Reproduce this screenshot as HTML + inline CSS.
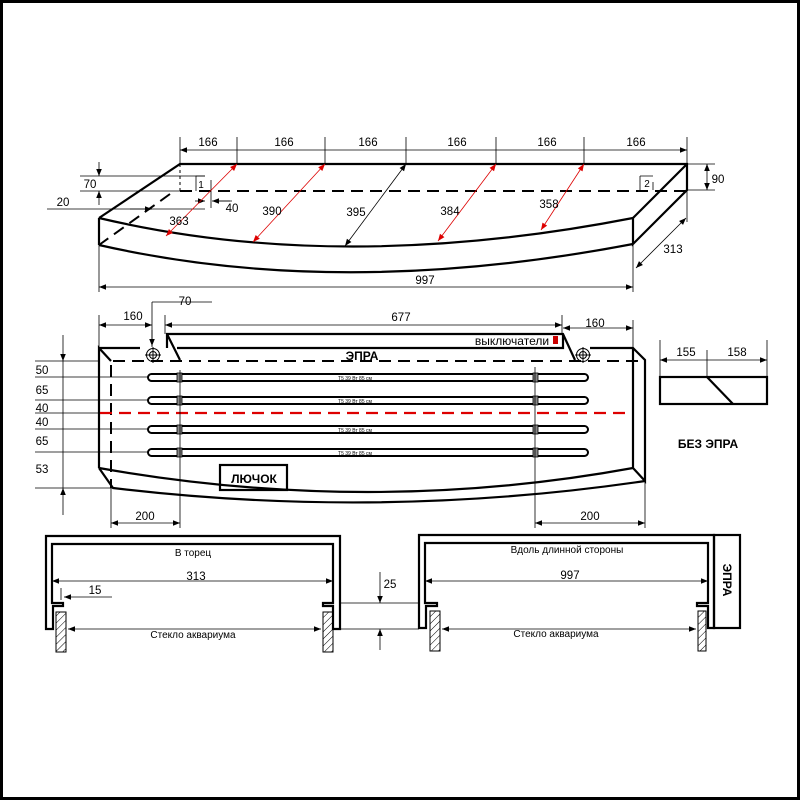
<!DOCTYPE html>
<html><head><meta charset="utf-8"><style>
html,body{margin:0;padding:0;background:#fff}
svg{display:block}
text{font-family:"Liberation Sans",sans-serif;fill:#000}
</style></head><body>
<svg width="800" height="800" viewBox="0 0 800 800" xmlns="http://www.w3.org/2000/svg" font-size="11.5">
<defs>
<marker id="a" viewBox="0 0 10 10" refX="10" refY="5" markerWidth="9" markerHeight="7" orient="auto-start-reverse" markerUnits="userSpaceOnUse"><path d="M0,1 L10,5 L0,9z" fill="#000"/></marker>
<marker id="r" viewBox="0 0 10 10" refX="10" refY="5" markerWidth="9" markerHeight="7" orient="auto-start-reverse" markerUnits="userSpaceOnUse"><path d="M0,1 L10,5 L0,9z" fill="#d00"/></marker>
<pattern id="h" width="5" height="5" patternUnits="userSpaceOnUse" patternTransform="rotate(45)"><line x1="0" y1="0" x2="0" y2="5" stroke="#000" stroke-width="1"/></pattern>
</defs>
<rect x="1.5" y="1.5" width="797" height="797" fill="none" stroke="#000" stroke-width="3"/>

<!-- TOP VIEW -->
<g fill="none" stroke="#000" stroke-width="2.2">
<path d="M99,218 L180,164 L687,164 L687,190 L633,244 L633,218 L687,164"/>
<path d="M99,218 V245"/>
<path d="M99,218 Q340,275 633,218"/>
<path d="M99,245 Q340,300 633,244"/>
</g>
<g fill="none" stroke="#000" stroke-width="2" stroke-dasharray="12,7">
<path d="M180,191 H687"/>
<path d="M170,194 L99,245"/>
</g>
<path d="M180,164 V191" stroke="#000" stroke-dasharray="3,3"/>
<g stroke="#000" stroke-width="0.8" fill="none">
<path d="M180,137 V164 M237,137 V164 M325,137 V164 M406,137 V164 M496,137 V164 M584,137 V164 M687,137 V164"/>
<path d="M180,150 H687" marker-start="url(#a)" marker-end="url(#a)"/>
<path d="M80,176 H205 M80,191 H180"/>
<path d="M99,162 V176" marker-end="url(#a)"/>
<path d="M99,205 V191" marker-end="url(#a)"/>
<path d="M47,209 H205"/>
<path d="M130,209 H152" marker-end="url(#a)"/>
<path d="M196,191 V176 H205 M211,180 V208 M215,201 H232"/>
<path d="M230,201 H212" marker-end="url(#a)"/>
<path d="M195,201 H205" marker-end="url(#a)"/>
<path d="M406,164 L345,246" marker-start="url(#a)" marker-end="url(#a)"/>
<path d="M687,190 H715 M687,164 H715"/>
<path d="M707,164 V190" marker-start="url(#a)" marker-end="url(#a)"/>
<path d="M687,190 V222"/>
<path d="M686,218 L636,268" marker-start="url(#a)" marker-end="url(#a)"/>
<path d="M99,245 V292 M633,244 V292"/>
<path d="M99,287 H633" marker-start="url(#a)" marker-end="url(#a)"/>
<path d="M640,176 V190 M640,176 H653 M653,190 V182"/>
</g>
<g stroke="#d00" stroke-width="0.8" fill="none">
<path d="M237,164 L166,236" marker-start="url(#r)" marker-end="url(#r)"/>
<path d="M325,164 L253,242" marker-start="url(#r)" marker-end="url(#r)"/>
<path d="M496,164 L438,241" marker-start="url(#r)" marker-end="url(#r)"/>
<path d="M584,164 L541,230" marker-start="url(#r)" marker-end="url(#r)"/>
</g>
<g text-anchor="middle">
<text x="208" y="146">166</text><text x="284" y="146">166</text><text x="368" y="146">166</text><text x="457" y="146">166</text><text x="547" y="146">166</text><text x="636" y="146">166</text>
<text x="90" y="188">70</text><text x="63" y="206">20</text><text x="232" y="212">40</text>
<text x="201" y="188" style="font-size:10px">1</text><text x="647" y="187" style="font-size:10px">2</text>
<text x="179" y="225">363</text><text x="272" y="215">390</text><text x="356" y="216">395</text><text x="450" y="215">384</text><text x="549" y="208">358</text>
<text x="718" y="183">90</text><text x="673" y="253">313</text><text x="425" y="284">997</text>
</g>

<!-- FRONT VIEW -->
<g fill="none" stroke="#000" stroke-width="2.2">
<path d="M167,348 V334 H563 L575,360 M167,334 L180,360 M177,348 H563 V334"/>
<path d="M99,468 V348 L111,361 M99,348 H140 M590,348 H633 L645,360 V481 L633,468 V348"/>
<path d="M99,468 Q370,516 633,468"/>
<path d="M99,468 L113,488 Q380,520 645,481"/>
<rect x="220" y="465" width="67" height="25"/>
<rect x="660" y="377" width="107" height="27"/>
<path d="M707,377 L733,404"/>
</g>
<g fill="none" stroke="#000" stroke-width="2" stroke-dasharray="12,7">
<path d="M113,361 H645"/>
<path d="M111,365 V488"/>
</g>
<path d="M100,413 H630" stroke="#d00" stroke-width="2.2" stroke-dasharray="12,7" fill="none"/>
<g fill="none" stroke="#000" stroke-width="2">
<rect x="148" y="374" width="440" height="7" rx="3.5"/>
<rect x="148" y="397" width="440" height="7" rx="3.5"/>
<rect x="148" y="426" width="440" height="7" rx="3.5"/>
<rect x="148" y="449" width="440" height="7" rx="3.5"/>
</g>
<g fill="#888" stroke="#000" stroke-width="0.8">
<rect x="177" y="373" width="5" height="9"/><rect x="177" y="396" width="5" height="9"/><rect x="177" y="425" width="5" height="9"/><rect x="177" y="448" width="5" height="9"/>
<rect x="533" y="373" width="5" height="9"/><rect x="533" y="396" width="5" height="9"/><rect x="533" y="425" width="5" height="9"/><rect x="533" y="448" width="5" height="9"/>
</g>
<g text-anchor="middle" style="font-size:5px"><text x="355" y="380" style="font-size:5px">T5 39 Вт 85 см</text><text x="355" y="403" style="font-size:5px">T5 39 Вт 85 см</text><text x="355" y="432" style="font-size:5px">T5 39 Вт 85 см</text><text x="355" y="455" style="font-size:5px">T5 39 Вт 85 см</text></g>
<g fill="none" stroke="#000" stroke-width="1">
<circle cx="153" cy="355" r="6.5"/><circle cx="153" cy="355" r="3.5"/><path d="M145,355 H161 M153,347 V363"/>
<circle cx="583" cy="355" r="6.5"/><circle cx="583" cy="355" r="3.5"/><path d="M575,355 H591 M583,347 V363"/>
</g>
<rect x="553" y="336" width="5" height="8" fill="#c00"/>
<g stroke="#000" stroke-width="0.8" fill="none">
<path d="M99,315 V348 M165,315 V334 M562,315 V334 M633,320 V348"/>
<path d="M99,325 H152" marker-start="url(#a)" marker-end="url(#a)"/>
<path d="M165,325 H562" marker-start="url(#a)" marker-end="url(#a)"/>
<path d="M563,328 H633" marker-start="url(#a)" marker-end="url(#a)"/>
<path d="M152,302 H212 M152,302 V347"/><path d="M152,330 V346" marker-end="url(#a)"/>
<path d="M35,361 H100 M35,377 H148 M35,400 H148 M35,413 H100 M35,429 H148 M35,452 H148 M35,488 H113"/>
<path d="M63,335 V361" marker-end="url(#a)"/><path d="M63,361 V488"/><path d="M63,515 V488" marker-end="url(#a)"/>
<path d="M180,370 V528 M535,367 V528 M111,488 V528 M645,481 V528"/>
<path d="M111,523 H180" marker-start="url(#a)" marker-end="url(#a)"/>
<path d="M535,523 H645" marker-start="url(#a)" marker-end="url(#a)"/>
<path d="M660,340 V377 M707,350 V377 M767,340 V377"/>
<path d="M660,360 H767" marker-start="url(#a)" marker-end="url(#a)"/>
</g>
<g text-anchor="middle">
<text x="133" y="320">160</text><text x="401" y="321">677</text><text x="595" y="327">160</text><text x="185" y="305">70</text>
<text x="42" y="374">50</text><text x="42" y="394">65</text><text x="42" y="412">40</text><text x="42" y="426">40</text><text x="42" y="445">65</text><text x="42" y="473">53</text>
<text x="145" y="520">200</text><text x="590" y="520">200</text>
<text x="686" y="356">155</text><text x="737" y="356">158</text>
<text x="362" y="360" style="font-size:12px;font-weight:bold">ЭПРА</text>
<text x="254" y="483" style="font-size:12px;font-weight:bold">ЛЮЧОК</text>
<text x="708" y="448" style="font-size:12px;font-weight:bold">БЕЗ ЭПРА</text>
</g>
<text x="512" y="345" text-anchor="middle" style="font-size:12px">выключатели</text>

<!-- BOTTOM -->
<g fill="none" stroke="#000" stroke-width="2.2">
<path d="M46,629 V536 H340 V629 H333 V606 H323 V603 H333 V544 H52 V603 H63 V606 H53 V629 Z"/>
<path d="M419,628 V535 H714 V628 H708 V606 H697 V603 H708 V543 H425 V603 H437 V606 H426 V628 Z"/>
<rect x="714" y="535" width="26" height="93"/>
</g>
<g fill="url(#h)" stroke="#000" stroke-width="1">
<rect x="56" y="612" width="10" height="40"/><rect x="323" y="612" width="10" height="40"/>
<rect x="430" y="611" width="10" height="40"/><rect x="698" y="611" width="8" height="40"/>
</g>
<g stroke="#000" stroke-width="0.8" fill="none">
<path d="M52,581 H333" marker-start="url(#a)" marker-end="url(#a)"/>
<path d="M112,597 H64" marker-end="url(#a)"/><path d="M61,588 V600"/>
<path d="M68,629 H321" marker-start="url(#a)" marker-end="url(#a)"/>
<path d="M340,603 H419 M340,629 H419"/>
<path d="M380,572 V603" marker-end="url(#a)"/><path d="M380,650 V629" marker-end="url(#a)"/>
<path d="M425,581 H708" marker-start="url(#a)" marker-end="url(#a)"/>
<path d="M442,629 H696" marker-start="url(#a)" marker-end="url(#a)"/>
</g>
<g text-anchor="middle">
<text x="193" y="556" style="font-size:10px">В торец</text>
<text x="196" y="580">313</text><text x="95" y="594">15</text>
<text x="193" y="638" style="font-size:10px">Стекло аквариума</text>
<text x="390" y="588">25</text>
<text x="567" y="553" style="font-size:10px">Вдоль длинной стороны</text>
<text x="570" y="579">997</text>
<text x="556" y="637" style="font-size:10px">Стекло аквариума</text>
</g>
<text x="0" y="0" transform="translate(723,580) rotate(90)" text-anchor="middle" style="font-size:12px;font-weight:bold">ЭПРА</text>
</svg>
</body></html>
